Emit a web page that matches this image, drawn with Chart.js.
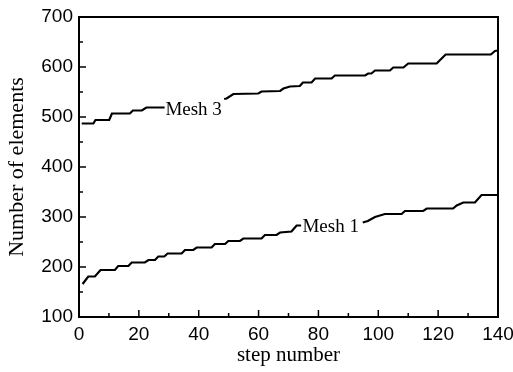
<!DOCTYPE html>
<html>
<head>
<meta charset="utf-8">
<script src="https://cdn.jsdelivr.net/npm/chart.js@4/dist/chart.umd.min.js"></script>
<style>
html,body{margin:0;padding:0;background:#fff;}
#wrap{width:513px;height:372px;}
</style>
</head>
<body>
<div id="wrap"><canvas id="ch"></canvas></div>
<script>
/* data (null = gap where the label sits) */
const m3X=[0.9,4.8,5.5,10.1,11,17,18,21,22.5,28.6,30,48.5,49.3,51.6,59.9,61,67.2,68.3,70.5,73.8,74.8,77.7,78.9,84.4,85.5,95.6,96.6,97.7,98.9,103.9,105,108.4,110,119.5,122.5,137.6,139,140];
const m3Y=[487,487,494,494,507,507,513,513,519,519,null,536,537,546,547,551,552,557,561,562,569,569,577,577,583,583,587,587,593,593,599,599,607,607,625,625,632,633];
const m1X=[1.2,3.1,5.3,7.2,12,13.1,16.5,17.6,22,23.2,25.4,26.5,28.5,29.6,34.3,35.4,38.2,39.3,44.3,45.4,48.8,49.9,53.8,54.9,61,62.1,66,67.2,71,72.7,74.2,80,94.8,96.5,98.9,102.2,107.8,108.9,115,116.2,125,126.2,128.4,132.3,134.5,140];
const m1Y=[166,181,181,194,194,202,202,209,209,214,214,221,221,227,227,234,234,239,239,246,246,252,252,257,257,264,264,269,271,283,283,null,289,292,300,306,306,312,312,317,317,323,329,329,344,344];
const curveLabels=[{text:'Mesh 3',x:38.3,y:504},{text:'Mesh 1',x:84.1,y:271}];
const xTicksMinor=[0,10,20,30,40,50,60,70,80,90,100,110,120,130,140];
const yTicksMinor=[100,150,200,250,300,350,400,450,500,550,600,650,700];

const pts=(xs,ys)=>xs.map((x,i)=>({x,y:ys[i]}));
const SANS='"Liberation Sans", Arial, sans-serif';
const SERIF='"Liberation Serif", "Times New Roman", serif';

const frame={
    id:'frame',
    afterDraw(chart){
        const {ctx,chartArea:a,scales:{x,y}}=chart;
        ctx.save();
        ctx.strokeStyle='#000';
        ctx.lineWidth=1.5;
        xTicksMinor.forEach(v=>{
            const px=x.getPixelForValue(v), len=v%20===0?7:4;
            ctx.beginPath();ctx.moveTo(px,a.bottom);ctx.lineTo(px,a.bottom-len);ctx.stroke();
        });
        yTicksMinor.forEach(v=>{
            const py=y.getPixelForValue(v), len=v%100===0?7:4;
            ctx.beginPath();ctx.moveTo(a.left,py);ctx.lineTo(a.left+len,py);ctx.stroke();
        });
        ctx.lineWidth=2;
        ctx.strokeRect(a.left,a.top,a.right-a.left,a.bottom-a.top);
        ctx.fillStyle='#000';
        ctx.font='19px '+SERIF;
        ctx.textAlign='center';
        ctx.textBaseline='alphabetic';
        curveLabels.forEach(l=>ctx.fillText(l.text,x.getPixelForValue(l.x),y.getPixelForValue(l.y)));
        ctx.restore();
    }
};

new Chart(document.getElementById('ch').getContext('2d'),{
    type:'line',
    data:{datasets:[
        {label:'Mesh 3',data:pts(m3X,m3Y),borderColor:'#000',borderWidth:2.2,pointRadius:0,tension:0,spanGaps:false},
        {label:'Mesh 1',data:pts(m1X,m1Y),borderColor:'#000',borderWidth:2.2,pointRadius:0,tension:0,spanGaps:false}
    ]},
    options:{
        responsive:true,maintainAspectRatio:false,animation:false,
        layout:{padding:{top:17,right:15,left:0,bottom:0}},
        plugins:{legend:{display:false},tooltip:{enabled:false}},
        scales:{
            x:{type:'linear',min:0,max:140,
                ticks:{stepSize:20,padding:6,color:'#000',font:{family:SANS,size:19}},
                grid:{display:false,drawTicks:false},border:{display:false},
                title:{display:true,text:'step number',color:'#000',font:{family:SERIF,size:21},padding:{bottom:4}},
                afterFit(s){s.height=55;s.paddingLeft=0;s.paddingRight=0;}},
            y:{type:'linear',min:100,max:700,
                ticks:{stepSize:100,padding:6,color:'#000',font:{family:SANS,size:19}},
                grid:{display:false,drawTicks:false},border:{display:false},
                title:{display:true,text:'Number of elements',color:'#000',font:{family:SERIF,size:22},padding:{top:4}},
                afterFit(s){s.width=79;s.paddingTop=0;s.paddingBottom=0;}}
        }
    },
    plugins:[frame]
});
</script>
</body>
</html>
